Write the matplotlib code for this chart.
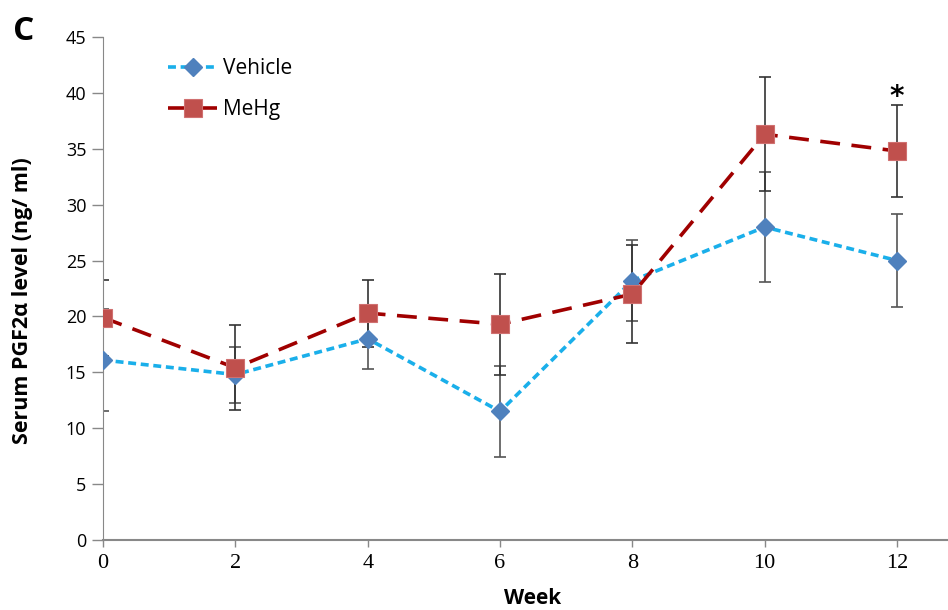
import numpy as np
import matplotlib.pyplot as plt

weeks = [0, 2, 4, 6, 8, 10, 12]
vehicle = [16.1, 14.8, 18.0, 11.5, 23.2, 28.0, 25.0]
vehicle_err = [4.6, 2.5, 2.7, 4.1, 3.6, 4.9, 4.15]
mehg = [19.9, 15.4, 20.3, 19.3, 22.0, 36.3, 34.8]
mehg_err = [3.4, 3.8, 3.0, 4.5, 4.4, 5.1, 4.1]
yticks = [0, 5, 10, 15, 20, 25, 30, 35, 40, 45]
xticks = [0, 2, 4, 6, 8, 10, 12]

fig = plt.figure(figsize=(9.48, 6.10), dpi=100)
ax = fig.add_axes([0.1087, 0.1148, 0.8913, 0.8245])

ax.errorbar(weeks, vehicle, yerr=vehicle_err, fmt='none', ecolor='#555555',
            elinewidth=1.2, capsize=4.5, capthick=1.2, zorder=2)
ax.errorbar(weeks, mehg, yerr=mehg_err, fmt='none', ecolor='#333333',
            elinewidth=1.2, capsize=4.5, capthick=1.2, zorder=2)

ax.plot(weeks, vehicle, color='#1AAFEA', lw=2.6, dashes=(2.2, 1.3),
        marker='D', markersize=9.5, markerfacecolor='#4F81BD',
        markeredgecolor='#4F81BD', label='Vehicle', zorder=3)
ax.plot(weeks, mehg, color='#A00000', lw=2.6, dashes=(5.5, 3.2),
        marker='s', markersize=13, markerfacecolor='#C0504D',
        markeredgecolor='#D07070', markeredgewidth=0.8, label='MeHg', zorder=4)

ax.text(12, 39.6, '*', ha='center', va='center', fontsize=20,
        fontweight='bold', family='DejaVu Sans')

ax.set_xlim(0, 12.77)
ax.set_ylim(0, 45)
ax.set_xticks(xticks)
ax.set_yticks(yticks)
ax.set_xticklabels([str(t) for t in xticks], family='Liberation Serif', fontsize=16)
ax.set_yticklabels([str(t) for t in yticks], family='Open Sans', fontsize=13)
ax.tick_params(axis='y', direction='out', length=8, width=1, color='#888888', pad=4)
ax.tick_params(axis='x', direction='out', length=5, width=1, color='#888888', pad=5)

for s in ['top', 'right']:
    ax.spines[s].set_visible(False)
ax.spines['left'].set_color('#888888')
ax.spines['bottom'].set_color('#888888')
ax.spines['bottom'].set_linewidth(1.5)

ax.set_xlabel('Week', fontsize=15, fontweight='bold', family='Open Sans')
ax.xaxis.set_label_coords(0.508, -0.095)
ax.set_ylabel('Serum PGF2α level (ng/ ml)', fontsize=15.5, fontweight='bold',
              family='Open Sans')
ax.yaxis.set_label_coords(-0.083, 0.476)

leg = ax.legend(loc='upper left', bbox_to_anchor=(0.055, 0.995), frameon=False,
                handlelength=2.35, handletextpad=0.3, labelspacing=0.95,
                prop={'family': 'Open Sans', 'size': 15})

fig.text(0.014, 0.935, 'C', fontsize=24, fontweight='bold', family='Open Sans')

fig.savefig('out.png', dpi=100)
